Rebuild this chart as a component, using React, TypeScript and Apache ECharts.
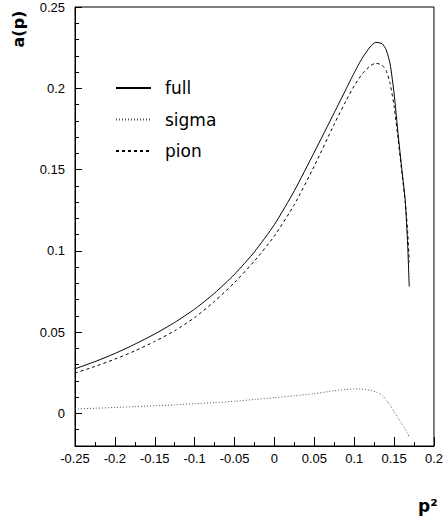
import React, { useEffect, useRef } from "react";
import * as echarts from "echarts";

const xs = [-0.25, -0.225, -0.2, -0.175, -0.15, -0.125, -0.1, -0.075, -0.05, -0.025, 0, 0.025, 0.05, 0.075, 0.09, 0.1, 0.11, 0.12, 0.127, 0.135, 0.14, 0.145, 0.15, 0.155, 0.16, 0.164, 0.167, 0.169];
const fullVals = [0.0275, 0.0319, 0.0369, 0.0426, 0.0489, 0.056, 0.0642, 0.074, 0.0856, 0.0994, 0.1162, 0.137, 0.1607, 0.185, 0.1997, 0.2095, 0.2185, 0.2255, 0.2283, 0.2274, 0.2238, 0.215, 0.197, 0.172, 0.149, 0.131, 0.104, 0.078];
const sigmaVals = [0.0028, 0.0032, 0.0037, 0.0042, 0.0047, 0.0053, 0.006, 0.0067, 0.0075, 0.0086, 0.0097, 0.0109, 0.0122, 0.014, 0.0148, 0.0151, 0.015, 0.0143, 0.0133, 0.0112, 0.0083, 0.0052, 0.0012, -0.0026, -0.0066, -0.0097, -0.0122, -0.0146];
const pionVals = [0.0249, 0.0289, 0.0334, 0.0385, 0.0443, 0.0509, 0.059, 0.069, 0.0805, 0.0938, 0.1092, 0.1285, 0.1522, 0.178, 0.1925, 0.2015, 0.2088, 0.2138, 0.2154, 0.2142, 0.211, 0.203, 0.189, 0.169, 0.147, 0.13, 0.112, 0.093];
const seriesNames = ["full", "sigma", "pion"];
const xTitle = "p²";
const yTitle = "a(p)";

const fmt = (v: number) => String(parseFloat(v.toFixed(3)));

export default function App() {
  const ref = useRef<HTMLDivElement>(null);
  useEffect(() => {
    if (!ref.current) return;
    const chart = echarts.init(ref.current, null, { renderer: "svg" });
    const pair = (vals: number[]) => xs.map((x, i) => [x, vals[i]]);
    const labelFont = { fontFamily: "Liberation Sans", fontSize: 13, color: "#000" };
    chart.setOption({
      animation: false,
      backgroundColor: "#fff",
      grid: [
        { left: 75, right: 11, top: 7, bottom: 70, show: true, borderColor: "#000", borderWidth: 1, backgroundColor: "transparent" },
        { left: 75, right: 11, top: 7, bottom: 102.52, show: false },
      ],
      xAxis: [
        {
          gridIndex: 0, type: "value", min: -0.25, max: 0.2, interval: 0.05,
          axisLine: { show: true, onZero: false, lineStyle: { color: "#000", width: 1 } },
          axisTick: { show: true, inside: true, length: 9, lineStyle: { color: "#000" } },
          minorTick: { show: true, splitNumber: 2, length: 4, lineStyle: { color: "#000" } },
          splitLine: { show: false },
          axisLabel: { ...labelFont, margin: 6, formatter: fmt },
        },
        { gridIndex: 1, type: "value", min: -0.25, max: 0.2, show: false },
      ],
      yAxis: [
        {
          gridIndex: 0, type: "value", min: -0.02, max: 0.25, interval: 0.01,
          axisLine: { show: true, onZero: false, lineStyle: { color: "#000", width: 1 } },
          axisTick: { show: true, inside: true, length: 4, lineStyle: { color: "#000" } },
          axisLabel: { show: false },
          splitLine: { show: false },
        },
        {
          gridIndex: 1, type: "value", min: 0, max: 0.25, interval: 0.05,
          axisLine: { show: false, onZero: false },
          axisTick: { show: true, inside: true, length: 7, lineStyle: { color: "#000" } },
          axisLabel: { ...labelFont, margin: 10, formatter: fmt },
          splitLine: { show: false },
        },
      ],
      legend: {
        data: seriesNames,
        orient: "vertical",
        left: 110,
        top: 74,
        itemWidth: 35,
        itemHeight: 14,
        itemGap: 13.5,
        itemStyle: { opacity: 0, borderWidth: 0 },
        textStyle: { fontFamily: "DejaVu Sans", fontSize: 17, color: "#000", lineHeight: 18, padding: [0, 0, 0, 9] },
      },
      series: [
        { name: seriesNames[0], type: "line", xAxisIndex: 0, yAxisIndex: 0, symbol: "none", smooth: 0.2, data: pair(fullVals), lineStyle: { color: "#000", width: 1, type: "solid" }, itemStyle: { color: "#000" } },
        { name: seriesNames[1], type: "line", xAxisIndex: 0, yAxisIndex: 0, symbol: "none", smooth: 0.2, data: pair(sigmaVals), lineStyle: { color: "#555", width: 1, type: [1, 2] }, itemStyle: { color: "#555" } },
        { name: seriesNames[2], type: "line", xAxisIndex: 0, yAxisIndex: 0, symbol: "none", smooth: 0.2, data: pair(pionVals), lineStyle: { color: "#000", width: 1, type: [3, 3] }, itemStyle: { color: "#000" } },
      ],
      graphic: [
        { type: "text", x: 18, y: 29, rotation: Math.PI / 2, style: { text: yTitle, fontFamily: "DejaVu Sans", fontWeight: "bold", fontSize: 16, fill: "#000", align: "center", verticalAlign: "middle" } },
        { type: "text", x: 418, y: 506, style: { text: xTitle, fontFamily: "DejaVu Sans", fontWeight: "bold", fontSize: 17, fill: "#000", align: "left", verticalAlign: "middle" } },
      ],
    });
    return () => chart.dispose();
  }, []);
  return <div ref={ref} style={{ position: "fixed", left: 0, top: 0, width: 446, height: 516 }} />;
}
